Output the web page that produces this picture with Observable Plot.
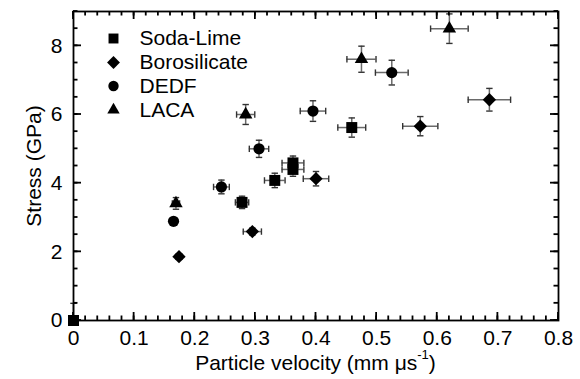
<!DOCTYPE html>
<html>
<head>
<meta charset="utf-8">
<script src="https://cdn.jsdelivr.net/npm/d3@7"></script>
<script src="https://cdn.jsdelivr.net/npm/@observablehq/plot@0.6"></script>
<style>
  html, body { margin: 0; padding: 0; background: white; }
  #chart svg { display: block; }
</style>
</head>
<body>
<div id="chart"></div>
<script>
// ---- Data ----
const series = ["Soda-Lime", "Borosilicate", "DEDF", "LACA"];

// Soda-Lime
const sodaV  = [0, 0.278, 0.332, 0.362, 0.362, 0.459];
const sodaS  = [0, 3.44, 4.08, 4.40, 4.59, 5.62];
const sodaEV = [0, 0.011, 0.017, 0.018, 0.018, 0.023];
const sodaES = [0.5, 0.18, 0.21, 0.2, 0.2, 0.28];

// Borosilicate
const boroV  = [0.174, 0.295, 0.400, 0.572, 0.686];
const boroS  = [1.86, 2.59, 4.13, 5.66, 6.43];
const boroEV = [0.005, 0.015, 0.021, 0.029, 0.035];
const boroES = [0.06, 0.1, 0.21, 0.28, 0.33];

// DEDF
const dedfV  = [0.165, 0.244, 0.306, 0.395, 0.525];
const dedfS  = [2.89, 3.89, 5.00, 6.10, 7.22];
const dedfEV = [0.004, 0.013, 0.016, 0.021, 0.027];
const dedfES = [0.08, 0.2, 0.25, 0.3, 0.36];

// LACA
const lacaV  = [0.169, 0.284, 0.475, 0.620];
const lacaS  = [3.41, 6.00, 7.61, 8.50];
const lacaEV = [0.006, 0.015, 0.024, 0.031];
const lacaES = [0.17, 0.29, 0.38, 0.43];

// Tick labels
const xTicks = [0, 0.1, 0.2, 0.3, 0.4, 0.5, 0.6, 0.7, 0.8];
const xTickLabels = ["0", "0.1", "0.2", "0.3", "0.4", "0.5", "0.6", "0.7", "0.8"];
const yTicks = [0, 2, 4, 6, 8];
const yTickLabels = ["0", "2", "4", "6", "8"];
const xMinor = d3.range(0, 0.8001, 0.02);
const yMinor = d3.range(0, 9.001, 0.5);

// ---- Build table ----
const raw = {
  "Soda-Lime": [sodaV, sodaS, sodaEV, sodaES],
  "Borosilicate": [boroV, boroS, boroEV, boroES],
  "DEDF": [dedfV, dedfS, dedfEV, dedfES],
  "LACA": [lacaV, lacaS, lacaEV, lacaES]
};
const rows = series.flatMap(name => {
  const [V, S, EV, ES] = raw[name];
  return V.map((v, i) => ({series: name, v, s: S[i], ev: EV[i], es: ES[i]}));
});

// ---- Styles ----
const W = 580, H = 379, mL = 73, mR = 22, mT = 11, mB = 59;
const majorLen = 8, minorLen = 4.5;

const markerStyle = {
  "Soda-Lime": {symbol: "square", r: 6.2, lr: 5.6},
  "Borosilicate": {symbol: "diamond2", r: 6.0, lr: 5.8},
  "DEDF": {symbol: "circle", r: 5.6, lr: 5.2},
  "LACA": {symbol: "triangle", r: 5.0, lr: 4.6}
};
const hCap = {draw(ctx) { ctx.moveTo(-3.2, 0); ctx.lineTo(3.2, 0); }};
const vCap = {draw(ctx) { ctx.moveTo(0, -3.2); ctx.lineTo(0, 3.2); }};

const font = "'Liberation Sans', Arial, Helvetica, sans-serif";
const fs = 21;
const barColor = "#6a6a6a";
const capColor = "#333";
const tickW = 1.8;

const xFmt = d => xTickLabels[xTicks.indexOf(d)] ?? "";
const yFmt = d => yTickLabels[yTicks.indexOf(d)] ?? "";

const withV = rows.filter(d => d.ev > 0);
const withS = rows.filter(d => d.es > 0);

const legendRowY = [27, 51, 74.5, 98.5];

const chart = Plot.plot({
  width: W,
  height: H,
  marginLeft: mL,
  marginRight: mR,
  marginTop: mT,
  marginBottom: mB,
  x: {domain: [0, 0.8]},
  y: {domain: [0, 9]},
  style: {fontFamily: font, fontSize: fs + "px", color: "black", background: "white"},
  marks: [
    // error bars
    Plot.ruleY(withV, {y: "s", x1: d => d.v - d.ev, x2: d => d.v + d.ev, stroke: barColor, strokeWidth: 1.5}),
    Plot.ruleX(withS, {x: "v", y1: d => Math.max(0, d.s - d.es), y2: d => d.s + d.es, stroke: barColor, strokeWidth: 1.5}),
    Plot.dot(withV, {x: d => d.v - d.ev, y: "s", symbol: vCap, stroke: capColor, fill: "none", strokeWidth: 1.4}),
    Plot.dot(withV, {x: d => d.v + d.ev, y: "s", symbol: vCap, stroke: capColor, fill: "none", strokeWidth: 1.4}),
    Plot.dot(withS.filter(d => d.s - d.es > 0), {x: "v", y: d => d.s - d.es, symbol: hCap, stroke: capColor, fill: "none", strokeWidth: 1.4}),
    Plot.dot(withS, {x: "v", y: d => d.s + d.es, symbol: hCap, stroke: capColor, fill: "none", strokeWidth: 1.4}),
    // markers
    ...series.map(name => Plot.dot(rows.filter(d => d.series === name), {
      x: "v", y: "s", symbol: markerStyle[name].symbol, r: markerStyle[name].r, fill: "black", stroke: "none"
    })),
    // legend
    ...series.map((name, i) => Plot.dot([name], {
      frameAnchor: "top-left", dx: 40, dy: legendRowY[i],
      symbol: markerStyle[name].symbol, r: markerStyle[name].lr, fill: "black", stroke: "none"
    })),
    ...series.map((name, i) => Plot.text([name], {
      frameAnchor: "top-left", dx: 66, dy: legendRowY[i], text: d => d,
      textAnchor: "start", lineAnchor: "middle", fontSize: fs, fill: "black"
    })),
    // tick labels and y title
    Plot.axisX({anchor: "bottom", ticks: xTicks, tickSize: 0, tickPadding: 10, tickFormat: xFmt, fontSize: fs, label: null}),
    Plot.axisY({anchor: "left", ticks: yTicks, tickSize: 0, tickPadding: 11, tickFormat: yFmt, fontSize: fs,
      label: "Stress (GPa)", labelAnchor: "center", labelArrow: "none", labelOffset: 47}),
    Plot.frame({stroke: "black", strokeWidth: 1.8})
  ]
});

// inward ticks on all four sides, placed with the plot's own scales
const sx = chart.scale("x"), sy = chart.scale("y");
const [x0, x1] = sx.range;             // left, right
const [yb, yt] = sy.range;             // bottom, top
const gT = d3.select(chart).append("g")
  .attr("stroke", "black").attr("stroke-width", tickW).attr("fill", "none");
function xTick(v, len) {
  const px = sx.apply(v);
  gT.append("line").attr("x1", px).attr("x2", px).attr("y1", yb).attr("y2", yb - len);
  gT.append("line").attr("x1", px).attr("x2", px).attr("y1", yt).attr("y2", yt + len);
}
function yTick(v, len) {
  const py = sy.apply(v);
  gT.append("line").attr("y1", py).attr("y2", py).attr("x1", x0).attr("x2", x0 + len);
  gT.append("line").attr("y1", py).attr("y2", py).attr("x1", x1).attr("x2", x1 - len);
}
xMinor.forEach(v => xTick(v, minorLen));
xTicks.forEach(v => xTick(v, majorLen));
yMinor.forEach(v => yTick(v, minorLen));
yTicks.forEach(v => yTick(v, majorLen));

// x-axis title with superscript
const cx = (x0 + x1) / 2;
const t = d3.select(chart).append("text")
  .attr("x", cx).attr("y", 370)
  .attr("text-anchor", "middle")
  .attr("font-family", font)
  .attr("font-size", fs)
  .attr("fill", "black");
t.append("tspan").text("Particle velocity (mm μs");
t.append("tspan").attr("font-size", 13).attr("dy", -11).text("-1");
t.append("tspan").attr("dy", 11).text(")");

document.getElementById("chart").appendChild(chart);
</script>
</body>
</html>
